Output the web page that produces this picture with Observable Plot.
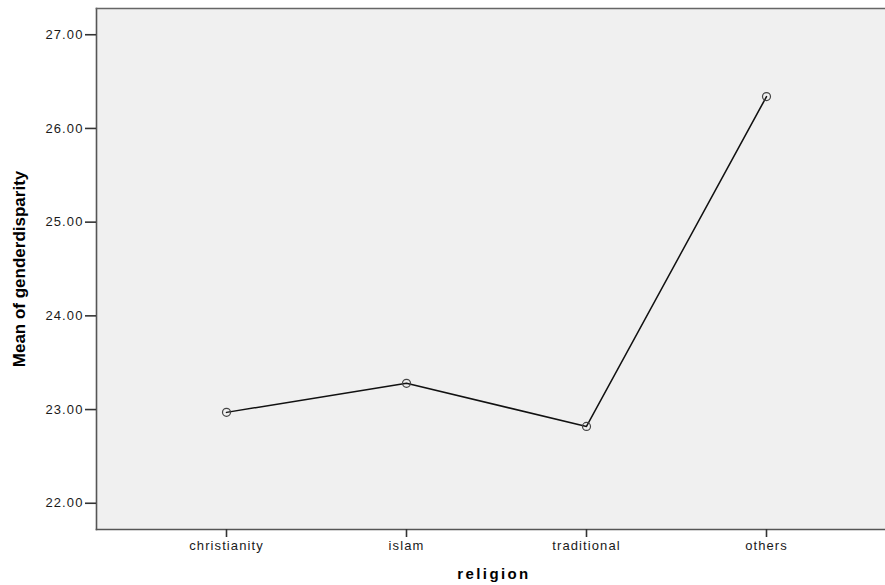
<!DOCTYPE html>
<html>
<head>
<meta charset="utf-8">
<script src="https://cdn.jsdelivr.net/npm/d3@7"></script>
<script src="https://cdn.jsdelivr.net/npm/@observablehq/plot@0.6"></script>
<style>
  html, body { margin: 0; padding: 0; background: #fff; overflow: hidden; }
  #chart { width: 885px; height: 585px; overflow: hidden; }
  #chart svg { display: block; max-width: none !important; }
  .tick-lbl text { letter-spacing: 1.1px; }
</style>
</head>
<body>
<div id="chart"></div>
<script>
const religions = ["christianity", "islam", "traditional", "others"];
const meanGenderDisparity = [22.97, 23.28, 22.82, 26.34];
const yTicks = [22, 23, 24, 25, 26, 27];
const yLabel = "Mean of genderdisparity";
const xLabel = "religion";

const data = religions.map((r, i) => ({religion: r, mean: meanGenderDisparity[i]}));

const font = "'Liberation Sans', Arial, sans-serif";

const chart = Plot.plot({
  width: 885,
  height: 585,
  marginLeft: 96,
  marginRight: 0,
  marginTop: 8,
  marginBottom: 56,
  style: {fontFamily: font, fontSize: "13px", color: "#222", background: "#fff", maxWidth: "none"},
  x: {type: "point", domain: religions, padding: 0, insetLeft: 130, insetRight: 119},
  y: {domain: [21.72, 27.28]},
  marks: [
    Plot.frame({fill: "#f0f0f0", stroke: "none"}),
    Plot.frame({anchor: "left", stroke: "#555", strokeWidth: 1.6}),
    Plot.frame({anchor: "top", stroke: "#666", strokeWidth: 1.6}),
    Plot.frame({anchor: "bottom", stroke: "#555", strokeWidth: 1.6}),
    Plot.axisY({ticks: yTicks, tickFormat: d3.format(".2f"), tickSize: 11, tickPadding: 2, label: null, stroke: "#333", strokeWidth: 1.6, fill: "#1a1a1a", fontSize: 13, className: "tick-lbl"}),
    Plot.axisX({tickSize: 8, tickPadding: 3, label: null, stroke: "#333", strokeWidth: 1.6, fill: "#1a1a1a", fontSize: 13, className: "tick-lbl"}),
    Plot.line(data, {x: "religion", y: "mean", stroke: "#111", strokeWidth: 1.5}),
    Plot.dot(data, {x: "religion", y: "mean", r: 4, stroke: "#444", strokeWidth: 1.2, fill: "none"}),
    Plot.text([yLabel], {frameAnchor: "left", textAnchor: "middle", dx: -77, rotate: -90, fontSize: 17, fontWeight: "bold", fill: "#000", text: d => d}),
    Plot.text([xLabel], {frameAnchor: "bottom", dy: 49, dx: 3, fontSize: 15, fontWeight: "bold", fill: "#000", text: d => d, className: "xlbl"})
  ]
});
document.getElementById("chart").appendChild(chart);
chart.style.maxWidth = "none";
chart.querySelectorAll(".xlbl text").forEach(t => t.style.letterSpacing = "2.4px");
</script>
</body>
</html>
